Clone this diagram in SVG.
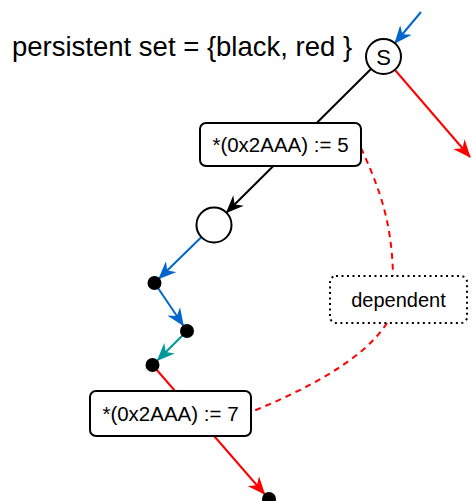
<svg xmlns="http://www.w3.org/2000/svg" width="472" height="501" viewBox="0 0 472 501">
<style>
text{font-family:"Liberation Sans",Arial,sans-serif;fill:#000}
.node{fill:#fff;stroke:#000;stroke-width:2}
.dot{fill:#000}
.e{fill:none;stroke-width:2}
.blk{stroke:#000}
.blu{stroke:#0066CC}
.red{stroke:#FF0000}
.teal{stroke:#009999}
.dash{stroke:#FF0000;stroke-dasharray:6 5}
</style>
<defs>
<marker id="aBlk" viewBox="0 0 18 15" refX="17" refY="7.5" markerWidth="18" markerHeight="15" markerUnits="userSpaceOnUse" orient="auto"><path d="M0,0 L18,7.5 L0,15 L5.5,7.5 Z" fill="#000"/></marker>
<marker id="aBlu" viewBox="0 0 18 15" refX="17" refY="7.5" markerWidth="18" markerHeight="15" markerUnits="userSpaceOnUse" orient="auto"><path d="M0,0 L18,7.5 L0,15 L5.5,7.5 Z" fill="#0066CC"/></marker>
<marker id="aRed" viewBox="0 0 18 15" refX="17" refY="7.5" markerWidth="18" markerHeight="15" markerUnits="userSpaceOnUse" orient="auto"><path d="M0,0 L18,7.5 L0,15 L5.5,7.5 Z" fill="#FF0000"/></marker>
<marker id="aTeal" viewBox="0 0 18 15" refX="17" refY="7.5" markerWidth="18" markerHeight="15" markerUnits="userSpaceOnUse" orient="auto"><path d="M0,0 L18,7.5 L0,15 L5.5,7.5 Z" fill="#009999"/></marker>
</defs>
<text x="12" y="56" font-size="27.5">persistent set = {black, red }</text>
<g id="connectors">
<line class="e blu" x1="421" y1="12" x2="395" y2="43" marker-end="url(#aBlu)"/>
<line class="e red" x1="395" y1="70" x2="470" y2="157" marker-end="url(#aRed)"/>
<line class="e blk" x1="371" y1="69" x2="226.5" y2="212.5" marker-end="url(#aBlk)"/>
<line class="e blu" x1="201.5" y1="237" x2="159" y2="278.5" marker-end="url(#aBlu)"/>
<line class="e blu" x1="158" y1="288" x2="183.3" y2="325.5" marker-end="url(#aBlu)"/>
<line class="e teal" x1="182.7" y1="335.2" x2="157.5" y2="360.2" marker-end="url(#aTeal)"/>
<line class="e red" x1="156.4" y1="369.5" x2="264.5" y2="494" marker-end="url(#aRed)"/>
<path class="e dash" d="M361,148 C378,185 392,220 393,276"/>
<path class="e dash" d="M387,323 C362,362 300,392 251,412"/>
</g>
<g id="S"><circle class="node" cx="383.5" cy="56.5" r="17.5"/><text x="383.5" y="64.5" font-size="22" text-anchor="middle">S</text></g>
<g id="write5"><rect class="node" x="200" y="123" width="161" height="43" rx="6"/><text x="280.5" y="152" font-size="20.5" text-anchor="middle">*(0x2AAA) := 5</text></g>
<g id="c2"><circle class="node" cx="214" cy="225" r="17.5"/></g>
<g id="d1"><circle class="dot" cx="154.5" cy="283" r="7"/></g>
<g id="d2"><circle class="dot" cx="187" cy="331" r="7"/></g>
<g id="d3"><circle class="dot" cx="152.5" cy="365" r="7"/></g>
<g id="write7"><rect class="node" x="90" y="391" width="161" height="45" rx="6"/><text x="170.5" y="421" font-size="20.5" text-anchor="middle">*(0x2AAA) := 7</text></g>
<g id="d4"><circle class="dot" cx="269" cy="499" r="7"/></g>
<g id="dependent"><rect x="330" y="276" width="137" height="47" rx="6" fill="#fff" stroke="#000" stroke-width="2" stroke-dasharray="2 3.5"/><text x="398.5" y="306.5" font-size="20" text-anchor="middle">dependent</text></g>
</svg>
